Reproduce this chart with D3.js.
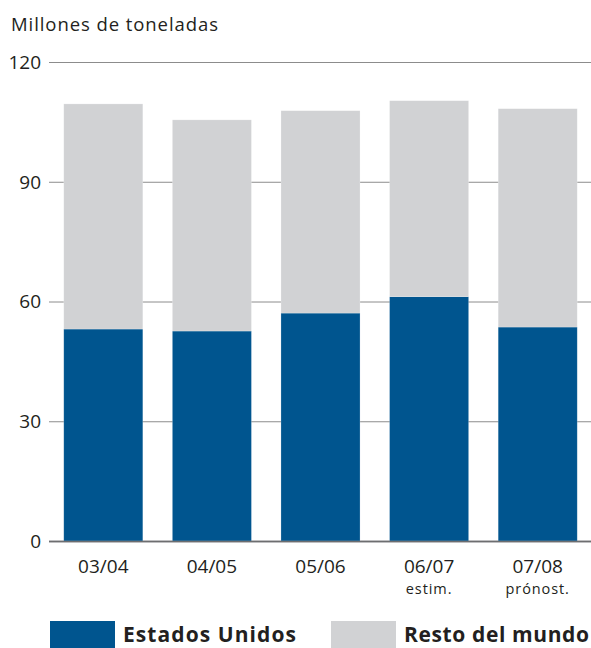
<!DOCTYPE html>
<html>
<head>
<meta charset="utf-8">
<script src="https://cdn.jsdelivr.net/npm/d3@7"></script>
<style>
  body { margin: 0; background: #fff; }
  text { font-family: "Open Sans", "Noto Sans", sans-serif; fill: #231f20; }
</style>
</head>
<body>
<div id="chart"></div>
<script>
// data
const seasons = ["03/04", "04/05", "05/06", "06/07", "07/08"];
const seasonNotes = ["", "", "", "estim.", "prónost."];
const usa = [53.1, 52.6, 57.1, 61.2, 53.6];
const restOfWorld = [56.4, 52.9, 50.7, 49.1, 54.7];
const yTicks = [0, 30, 60, 90, 120];

const colors = {blue: "#00558f", grey: "#d1d2d4", grid: "#8c8c8c"};

const width = 591, height = 648;
const margin = {top: 62, right: 0, bottom: 107, left: 49};

const svg = d3.select("#chart").append("svg")
    .attr("width", width)
    .attr("height", height);

const x = d3.scaleBand()
    .domain(seasons)
    .range([margin.left, 592])
    .paddingInner(0.272)
    .paddingOuter(0.136);

const y = d3.scaleLinear()
    .domain([0, 120])
    .range([height - margin.bottom, margin.top]);

// title
svg.append("text")
    .attr("x", 11)
    .attr("y", 31)
    .attr("font-size", 18.5)
    .attr("textLength", 207)
    .attr("lengthAdjust", "spacing")
    .text("Millones de toneladas");

// grid lines + y labels
const grid = svg.append("g");
grid.selectAll("line")
    .data(yTicks)
    .enter().append("line")
    .attr("x1", margin.left)
    .attr("x2", width)
    .attr("y1", d => y(d) + 0.5)
    .attr("y2", d => y(d) + 0.5)
    .attr("stroke", d => d === 0 ? "#6d6e70" : colors.grid)
    .attr("stroke-width", d => d === 0 ? 1.5 : 1);

grid.selectAll("text")
    .data(yTicks)
    .enter().append("text")
    .attr("x", 41)
    .attr("y", d => y(d))
    .attr("dy", "0.36em")
    .attr("text-anchor", "end")
    .attr("font-size", 19)
    .text(d => d);

// stacked bars
const rows = seasons.map((s, i) => ({season: s, us: usa[i], rest: restOfWorld[i]}));
const stack = d3.stack().keys(["us", "rest"])(rows);
const fills = {us: colors.blue, rest: colors.grey};

svg.append("g")
    .selectAll("g")
    .data(stack)
    .enter().append("g")
    .attr("fill", d => fills[d.key])
    .selectAll("rect")
    .data(d => d)
    .enter().append("rect")
    .attr("x", d => x(d.data.season))
    .attr("width", x.bandwidth())
    .attr("y", d => y(d[1]))
    .attr("height", d => y(d[0]) - y(d[1]))
    .attr("stroke", "#ffffff")
    .attr("stroke-opacity", 0.35)
    .attr("stroke-width", 0.6);

// redraw the zero line over the bars
svg.append("line")
    .attr("x1", margin.left)
    .attr("x2", width)
    .attr("y1", y(0) + 0.5)
    .attr("y2", y(0) + 0.5)
    .attr("stroke", "#6d6e70")
    .attr("stroke-width", 1.5);

// x labels
const xl = svg.append("g");
xl.selectAll(".season")
    .data(seasons)
    .enter().append("text")
    .attr("class", "season")
    .attr("x", d => x(d) + x.bandwidth() / 2)
    .attr("y", 573)
    .attr("text-anchor", "middle")
    .attr("font-size", 19)
    .text(d => d);

xl.selectAll(".note")
    .data(seasonNotes)
    .enter().append("text")
    .attr("class", "note")
    .attr("x", (d, i) => x(seasons[i]) + x.bandwidth() / 2)
    .attr("y", 594)
    .attr("text-anchor", "middle")
    .attr("font-size", 14.5)
    .attr("letter-spacing", 0.9)
    .text(d => d);

// legend
const legendItems = [
    {label: "Estados Unidos", color: colors.blue, x: 50, len: 173},
    {label: "Resto del mundo", color: colors.grey, x: 331, len: 185}
];
const legend = svg.append("g").selectAll("g")
    .data(legendItems)
    .enter().append("g")
    .attr("transform", d => "translate(" + d.x + ",621)");

legend.append("rect")
    .attr("width", 65)
    .attr("height", 27)
    .attr("fill", d => d.color);

legend.append("text")
    .attr("x", 73)
    .attr("y", 21)
    .attr("font-size", 21)
    .attr("font-weight", "bold")
    .attr("textLength", d => d.len)
    .attr("lengthAdjust", "spacing")
    .text(d => d.label);
</script>
</body>
</html>
